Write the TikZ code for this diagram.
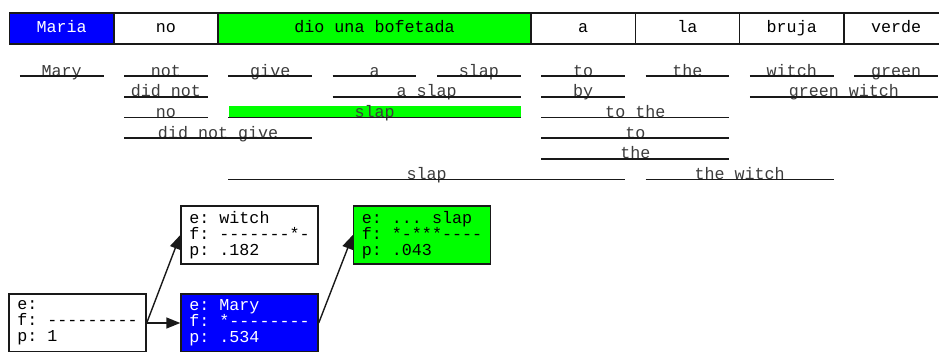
\documentclass[tikz,border=0pt]{standalone}
\usepackage{fontspec}
\setmonofont{Liberation Mono}
\usepackage{xcolor}
\definecolor{dark}{RGB}{25,25,25}
\definecolor{ink}{RGB}{60,60,60}
\definecolor{srcblue}{RGB}{0,0,255}
\definecolor{hitgreen}{RGB}{0,255,0}
\usepackage{tikz}
\usetikzlibrary{arrows.meta, positioning}
\frenchspacing

\begin{document}
\begin{tikzpicture}[
        x=1pt, y=-1pt,
        word/.style={rectangle, draw=dark, line width=1.6pt, fill=#1, minimum width=104.3pt, minimum height=31pt, inner sep=0pt, text height=11pt, text depth=3.5pt, font=\ttfamily\fontsize{16.7}{16}\selectfont},
        word/.default=white,
        rule/.style={draw=dark, line width=1.6pt},
        phrase/.style={anchor=base, inner sep=0pt, minimum width=#1, text=ink, font=\ttfamily\fontsize{16.7}{16}\selectfont,
            append after command={(\tikzlastnode.base west) edge[rule] (\tikzlastnode.base east)}},
        hit/.style={fill=hitgreen, text height=11pt, text depth=0pt},
        hyp/.style={rectangle, draw=dark, line width=1.4pt, fill=#1, minimum width=137pt, minimum height=58pt, inner sep=0pt, align=left, font=\ttfamily\fontsize{16.7}{16}\selectfont},
        hyp/.default=white,
        arrow/.style={-{Triangle[length=14pt, width=11pt]}, line width=1.4pt, dark}
    ]
        \path[use as bounding box, clip] (0,0) rectangle (939,351);

        % source sentence
        \node[word=srcblue, text=white] (maria) at (61.65,28.5) {Maria};
        \node[word] (no) at (165.95,28.5) {no};
        \node[word=hitgreen, minimum width=312.9pt] (dio) at (374.55,28.5) {dio una bofetada};
        \node[word] (a) at (583.15,28.5) {a};
        \node[word] (la) at (687.45,28.5) {la};
        \node[word] (bruja) at (791.75,28.5) {bruja};
        \node[word] (verde) at (896.05,28.5) {verde};

        % translation options
        \node[phrase=83.3pt] (o-mary) at (61.65,76) {Mary};
        \node[phrase=83.3pt] (o-not) at (165.95,76) {not};
        \node[phrase=83.3pt] (o-give) at (270.25,76) {give};
        \node[phrase=83.3pt] (o-a) at (374.55,76) {a};
        \node[phrase=83.3pt] (o-slap) at (478.85,76) {slap};
        \node[phrase=83.3pt] (o-to) at (583.15,76) {to};
        \node[phrase=83.3pt] (o-the) at (687.45,76) {the};
        \node[phrase=83.3pt] (o-witch) at (791.75,76) {witch};
        \node[phrase=83.3pt] (o-green) at (896.05,76) {green};

        \node[phrase=83.3pt] (o-didnot) at (165.95,96.7) {did not};
        \node[phrase=187.6pt] (o-aslap) at (426.7,96.7) {a slap};
        \node[phrase=83.3pt] (o-by) at (583.15,96.7) {by};
        \node[phrase=187.6pt] (o-greenwitch) at (843.9,96.7) {green witch};

        \node[phrase=83.3pt] (o-no) at (165.95,117.4) {no};
        \node[phrase=291.9pt, hit] (o-slap3) at (374.55,117.4) {slap};
        \node[phrase=187.6pt] (o-tothe) at (635.3,117.4) {to the};

        \node[phrase=187.6pt] (o-didnotgive) at (218.1,138.1) {did not give};
        \node[phrase=187.6pt] (o-to2) at (635.3,138.1) {to};

        \node[phrase=187.6pt] (o-the2) at (635.3,158.8) {the};

        \node[phrase=396.2pt] (o-slap4) at (426.7,179.5) {slap};
        \node[phrase=187.6pt] (o-thewitch) at (739.6,179.5) {the witch};

        % hypotheses
        \node[hyp] (root) at (77.5,323) {e:\\f: ---------\\p: 1};
        \node[hyp] (witch) at (249.5,235) {e: witch\\f: -------*-\\p: .182};
        \node[hyp=srcblue, text=white] (mary) at (249.5,323) {e: Mary\\f: *--------\\p: .534};
        \node[hyp=hitgreen] (slap) at (422,235) {e: ... slap\\f: *-***----\\p: .043};

        \draw[arrow] (root.east) -- (witch.west);
        \draw[arrow] (root.east) -- (mary.west);
        \draw[arrow] (mary.east) -- (slap.west);
    \end{tikzpicture}
\end{document}
